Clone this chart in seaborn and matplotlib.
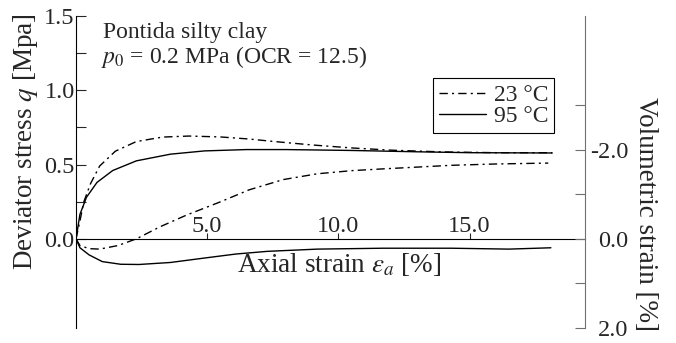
import numpy as np
import pandas as pd
import matplotlib
matplotlib.use("Agg")
from matplotlib import pyplot as plt
import seaborn as sns

sns.set_style("ticks")
plt.rcParams['font.family'] = ['Liberation Serif', 'DejaVu Serif']
plt.rcParams['mathtext.fontset'] = 'stix'

# deviator stress q [MPa] vs axial strain [%]
eps_q23 = [0, 0.15, 0.3, 0.55, 0.9, 1.5, 2.3, 3.3, 4.3, 5.5, 6.6, 7.5, 9.0, 10.5, 12.0, 14.0, 16.0, 18.15]
q_23 = [0, 0.12, 0.25, 0.37, 0.49, 0.59, 0.655, 0.685, 0.692, 0.686, 0.672, 0.656, 0.632, 0.612, 0.597, 0.585, 0.58, 0.58]
eps_q95 = [0, 0.15, 0.4, 0.8, 1.4, 2.3, 3.6, 4.9, 6.5, 8.0, 10.5, 13.0, 15.0, 18.15]
q_95 = [0, 0.165, 0.28, 0.38, 0.46, 0.525, 0.57, 0.592, 0.601, 0.601, 0.595, 0.586, 0.58, 0.578]

# volumetric strain [%] vs axial strain [%]
eps_v23 = [0, 0.15, 0.5, 0.9, 1.6, 2.3, 3.2, 4.2, 5.5, 6.6, 7.9, 9.2, 10.5, 11.7, 14.3, 16.0, 18.0]
v_23 = [0, 0.15, 0.22, 0.23, 0.15, 0.0, -0.27, -0.53, -0.83, -1.1, -1.33, -1.46, -1.53, -1.57, -1.65, -1.68, -1.70]
eps_v95 = [0, 0.15, 0.5, 1.0, 1.7, 2.4, 3.6, 4.9, 6.1, 7.3, 9.2, 11.7, 14.3, 16.5, 18.1]
v_95 = [0, 0.2, 0.36, 0.51, 0.57, 0.575, 0.53, 0.43, 0.34, 0.28, 0.23, 0.21, 0.21, 0.23, 0.2]

labels = ['23 °C', '95 °C']

df_q = pd.concat([
    pd.DataFrame({'eps': eps_q23, 'val': q_23, 'T': labels[0]}),
    pd.DataFrame({'eps': eps_q95, 'val': q_95, 'T': labels[1]}),
])
df_v = pd.concat([
    pd.DataFrame({'eps': eps_v23, 'val': v_23, 'T': labels[0]}),
    pd.DataFrame({'eps': eps_v95, 'val': v_95, 'T': labels[1]}),
])
dash_map = {labels[0]: (6, 3, 1.5, 3), labels[1]: ''}

fig = plt.figure(figsize=(6.76, 3.43), dpi=100)
ax = fig.add_axes([76/676, 15/343, 509/676, 312/343])
ax2 = ax.twinx()

sns.lineplot(data=df_q, x='eps', y='val', style='T', dashes=dash_map, color='black',
             lw=1.0, sort=False, estimator=None, ax=ax)
sns.lineplot(data=df_v, x='eps', y='val', style='T', dashes=dash_map, color='black',
             lw=1.0, sort=False, estimator=None, ax=ax2, legend=False)

ax.set_xlim(0, 19.4)
ax.set_ylim(-0.6, 1.5)
ax2.set_ylim(2.0, -5.0)

# left axis
ax.spines['right'].set_visible(False)
ax.spines['bottom'].set_visible(False)
ax.spines['top'].set_position(('data', 0))
ax.spines['left'].set_color('black')
ax.spines['top'].set_color('black')
ax.set_yticks([0, 0.25, 0.5, 0.75, 1.0, 1.25, 1.5])
ax.set_yticklabels(['0.0', '', '0.5', '', '1.0', '', '1.5'])
ax.tick_params(axis='y', direction='in', length=7, width=0.8, pad=1, labelsize=17.5)
ax.xaxis.set_ticks_position('top')
ax.set_xticks([5, 10, 15])
ax.set_xticklabels(['5.0', '10.0', '15.0'])
ax.tick_params(axis='x', direction='out', length=4, width=0.8, pad=-3, labelsize=17.5)
ax.set_xlabel('')
ax.set_ylabel('')

# right axis
for s in ['left', 'top', 'bottom']:
    ax2.spines[s].set_visible(False)
ax2.spines['right'].set_color('#707070')
ax2.set_yticks([-3, -2, -1, 0, 1, 2])
ax2.set_yticklabels(['', '-2.0', '', '0.0', '', '2.0'])
ax2.tick_params(axis='y', direction='in', length=7, width=0.8, color='#707070', pad=31, labelsize=17.5)
for t in ax2.get_yticklabels():
    t.set_horizontalalignment('right')
ax2.set_ylabel('')
ax2.set_xlabel('')

ax.text(0.517, 0.18, r'Axial strain $\varepsilon_a$ [%]', transform=ax.transAxes,
        ha='center', va='baseline', fontsize=19.5)
ax.text(-0.10, 0.596, r'Deviator stress $q$ [Mpa]', transform=ax.transAxes,
        rotation=90, ha='center', va='center', fontsize=19.5)
ax.text(1.118, 0.365, 'Volumetric strain [%]', transform=ax.transAxes,
        rotation=270, ha='center', va='center', fontsize=19.5)

ax.text(0.054, 0.929, 'Pontida silty clay', transform=ax.transAxes,
        ha='left', va='baseline', fontsize=17)
ax.text(0.049, 0.849, r'$p_0$ = 0.2 MPa (OCR = 12.5)', transform=ax.transAxes,
        ha='left', va='baseline', fontsize=17)

leg = ax.legend(loc='upper right', bbox_to_anchor=(0.939, 0.80), fontsize=17,
                frameon=True, fancybox=False, edgecolor='black', framealpha=1,
                handlelength=2.0, handletextpad=0.3, labelspacing=0.0,
                borderpad=0.25, borderaxespad=0)
leg.get_frame().set_linewidth(0.8)

fig.savefig('out.png', dpi=100)
